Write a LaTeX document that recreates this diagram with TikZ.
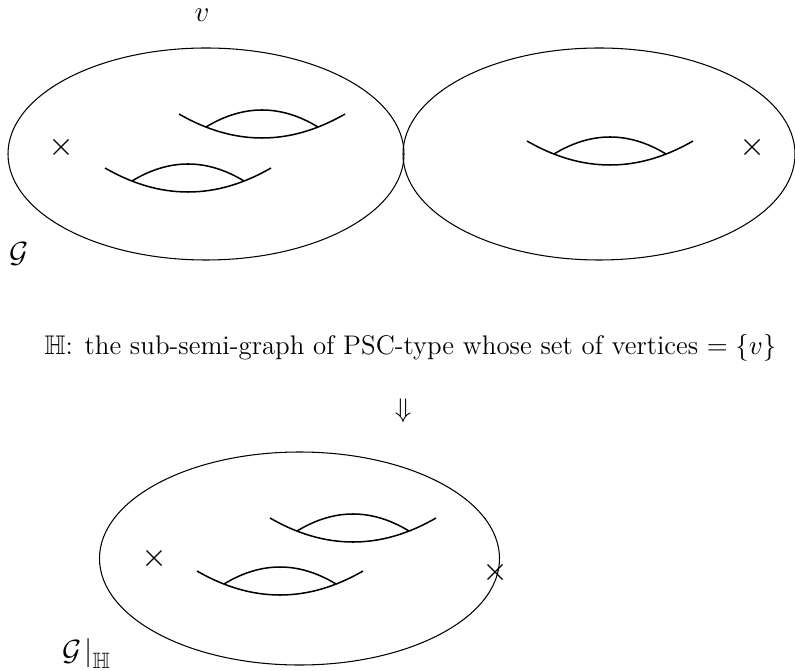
\RequirePackage{fix-cm}
\documentclass[tikz,border=0pt]{standalone}
\usepackage{amssymb}
\begin{document}
\begin{tikzpicture}[x=0.4274pt,y=-0.4274pt,
  surface/.style={line width=0.45pt},
  hline/.style={line width=0.65pt},
  crossline/.style={line width=0.5pt},
  lbl/.style={inner sep=0pt,outer sep=0pt},
  txtfont/.style={font=\fontsize{11.5}{14}\selectfont},
  lblfont/.style={font=\fontsize{12.5}{15}\selectfont},
  genushandle/.pic={
    \draw[hline] (-83,0) .. controls (-27.67,32) and (27.67,32) .. (83,0);
    \draw[hline] (-56,13) .. controls (-18.67,-9.67) and (18.67,-9.67) .. (56,13);
  }]
\useasboundingbox (0,0) rectangle (795,671);
% top-left surface
\draw[surface] (206,154) ellipse [x radius=198, y radius=106];
\pic at (262,114) {genushandle};
\pic at (188,168) {genushandle};
\coordinate (xl) at (61,147);
\draw[crossline] (xl) ++(-7.5,-7.5) -- ++(15,15) (xl) ++(-7.5,7.5) -- ++(15,-15);
% top-right surface
\draw[surface] (599,154) ellipse [x radius=196, y radius=106];
\pic at (610,141) {genushandle};
\coordinate (xr) at (752,147);
\draw[crossline] (xr) ++(-7.5,-7.5) -- ++(15,15) (xr) ++(-7.5,7.5) -- ++(15,-15);
% labels
\node[lbl,lblfont,anchor=base] (v) at (202,22) {$v$};
\node[lbl,lblfont] (G) at (19,254) {$\mathcal{G}$};
\node[lbl,txtfont,anchor=base] (txt) at (410.5,354) {$\mathbb{H}$: the sub-semi-graph of PSC-type whose set of vertices $=\{v\}$};
\node[lbl,txtfont] (arr) at (403,411) {$\Downarrow$};
% bottom surface
\draw[surface] (299.5,558.5) ellipse [x radius=200, y radius=106.5];
\pic at (353,518) {genushandle};
\pic at (280,571) {genushandle};
\coordinate (xb1) at (154,558);
\draw[crossline] (xb1) ++(-7.5,-7.5) -- ++(15,15) (xb1) ++(-7.5,7.5) -- ++(15,-15);
\coordinate (xb2) at (495,572);
\draw[crossline] (xb2) ++(-7.5,-7.5) -- ++(15,15) (xb2) ++(-7.5,7.5) -- ++(15,-15);
\node[lbl,lblfont,anchor=base west] (GH) at (62,660) {$\mathcal{G}\mkern2mu\big|_{\hbox{\fontsize{9.5}{11}\selectfont$\mathbb{H}$}}$};
\end{tikzpicture}
\end{document}
